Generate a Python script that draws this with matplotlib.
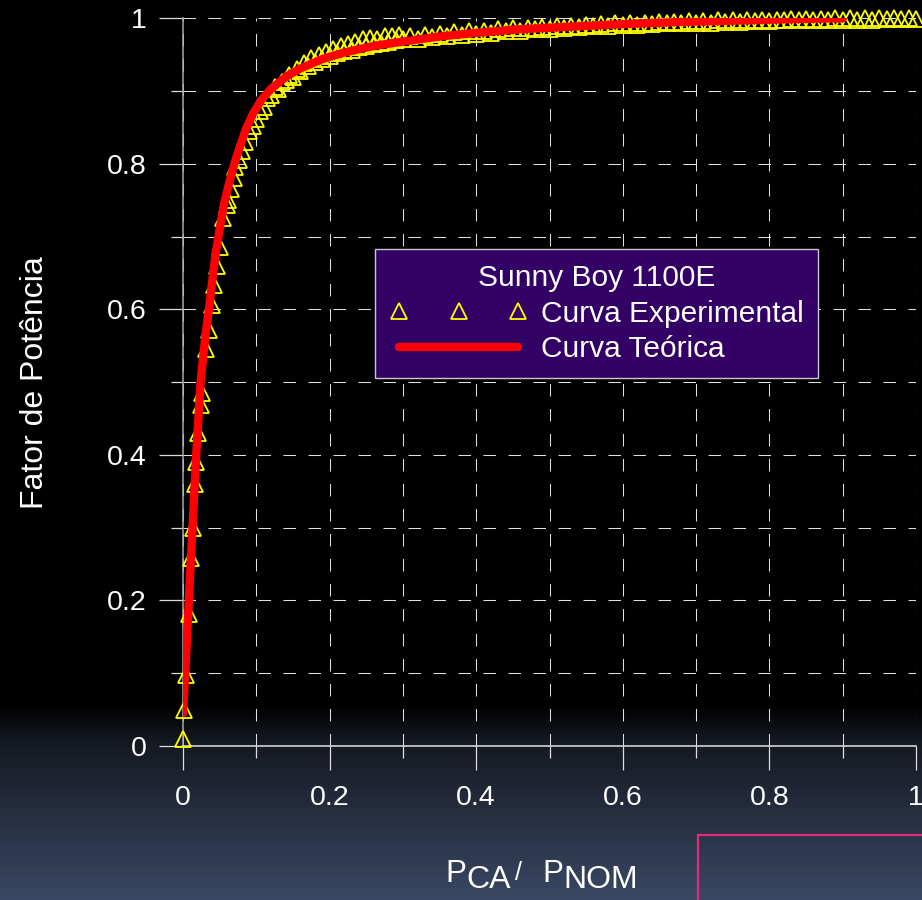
import numpy as np
import matplotlib
matplotlib.use('Agg')
import matplotlib.pyplot as plt
from matplotlib.patches import Rectangle

# curva experimental
exp_x = [0.000, 0.002, 0.004, 0.008, 0.011, 0.013, 0.016, 0.018, 0.020, 0.024,
         0.026, 0.032, 0.035, 0.039, 0.042, 0.046, 0.051, 0.055, 0.060, 0.062,
         0.066, 0.069, 0.071, 0.076,
         0.080, 0.085, 0.090, 0.095, 0.100, 0.105, 0.110, 0.115, 0.120, 0.125,
         0.130, 0.135, 0.140, 0.145, 0.150, 0.155, 0.160, 0.165, 0.170, 0.175,
         0.180, 0.185, 0.190, 0.195, 0.200, 0.205, 0.210, 0.215, 0.220, 0.225,
         0.230, 0.235, 0.240, 0.245, 0.250, 0.255, 0.260, 0.265, 0.270, 0.275,
         0.280, 0.285, 0.290, 0.295, 0.300,
         0.31, 0.32, 0.33, 0.34, 0.35, 0.36, 0.37, 0.38, 0.39, 0.40,
         0.41, 0.42, 0.43, 0.44, 0.45, 0.46, 0.47, 0.48, 0.49, 0.50,
         0.51, 0.52, 0.53, 0.54, 0.55, 0.56, 0.57, 0.58, 0.59, 0.60,
         0.61, 0.62, 0.63, 0.64, 0.65, 0.66, 0.67, 0.68, 0.69, 0.70,
         0.71, 0.72, 0.73, 0.74, 0.75, 0.76, 0.77, 0.78, 0.79, 0.80,
         0.81, 0.82, 0.83, 0.84, 0.85, 0.86, 0.87, 0.88, 0.89, 0.90,
         0.91, 0.92, 0.93, 0.94, 0.95, 0.96, 0.97, 0.98, 0.99, 1.00]
exp_y = [0.010, 0.049, 0.097, 0.182, 0.258, 0.300, 0.360, 0.390, 0.430, 0.468,
         0.485, 0.546, 0.571, 0.606, 0.633, 0.659, 0.686, 0.725, 0.743, 0.750,
         0.766, 0.780, 0.796, 0.805,
         0.818, 0.830, 0.845, 0.852, 0.862, 0.872, 0.878, 0.890, 0.894, 0.905,
         0.903, 0.912, 0.915, 0.922, 0.920, 0.930, 0.928, 0.938, 0.935, 0.945,
         0.940, 0.950, 0.944, 0.954, 0.948, 0.958, 0.952, 0.962, 0.955, 0.965,
         0.957, 0.968, 0.960, 0.971, 0.962, 0.973, 0.964, 0.972, 0.966, 0.975,
         0.968, 0.976, 0.970, 0.977, 0.971,
         0.975, 0.972, 0.977, 0.974, 0.979, 0.976, 0.981, 0.977, 0.982, 0.979,
         0.983, 0.980, 0.985, 0.982, 0.986, 0.983, 0.987, 0.985, 0.988, 0.985,
         0.989, 0.987, 0.990, 0.988, 0.991, 0.989, 0.992, 0.990, 0.993, 0.991,
         0.994, 0.991, 0.994, 0.992, 0.995, 0.993, 0.995, 0.993, 0.996, 0.994,
         0.996, 0.994, 0.997, 0.995, 0.997, 0.995, 0.998, 0.996, 0.998, 0.996,
         0.998, 0.997, 0.999, 0.997, 0.999, 0.997, 0.999, 0.998, 1.000, 0.998,
         1.000, 0.998, 1.000, 0.998, 1.000, 0.999, 1.000, 0.999, 1.000, 0.999]

# curva teorica
teo_x = [0.0, 0.003, 0.006, 0.009, 0.012, 0.015, 0.018, 0.021, 0.024, 0.028,
         0.032, 0.036, 0.040, 0.045, 0.050, 0.056, 0.062, 0.070, 0.078, 0.086,
         0.095, 0.107, 0.12, 0.141, 0.16, 0.19, 0.22, 0.26, 0.30, 0.35,
         0.40, 0.46, 0.52, 0.60, 0.68, 0.76, 0.84, 0.90]
teo_y = [0.045, 0.10, 0.16, 0.22, 0.28, 0.34, 0.40, 0.45, 0.50, 0.54,
         0.575, 0.605, 0.64, 0.68, 0.71, 0.745, 0.77, 0.80, 0.825, 0.848,
         0.868, 0.888, 0.903, 0.920, 0.931, 0.944, 0.953, 0.962, 0.968, 0.975,
         0.980, 0.985, 0.988, 0.992, 0.995, 0.997, 0.999, 1.0]

ticks = [0, 0.2, 0.4, 0.6, 0.8, 1.0]
tick_labels = ['0', '0.2', '0.4', '0.6', '0.8', '1']

plt.rcParams['font.family'] = ['Liberation Sans', 'DejaVu Sans']

W, H = 922, 900
fig = plt.figure(figsize=(W / 100, H / 100), dpi=100, facecolor='black')

# fundo com degrade na parte de baixo
bg = fig.add_axes([0, 0, 1, 1], zorder=-10)
rows = np.arange(H)
r = np.interp(rows, [0, 705, 740, 800, 900], [0, 0, 20, 35, 58])
g = np.interp(rows, [0, 705, 740, 800, 900], [0, 0, 24, 42, 72])
b = np.interp(rows, [0, 705, 740, 800, 900], [0, 0, 32, 58, 100])
img = np.stack([r, g, b], axis=-1)[:, None, :] / 255.0
bg.imshow(img, aspect='auto', extent=[0, 1, 0, 1], origin='upper')
bg.axis('off')

ax = fig.add_axes([183 / W, 154 / H, 733 / W, 727.7 / H])
ax.set_facecolor('none')

ax.plot(exp_x, exp_y, linestyle='none', marker='^', ms=11.5, mfc='none',
        mec='#ffff00', mew=1.3, clip_on=False, zorder=3,
        label='Curva Experimental')
ax.plot(teo_x, teo_y, color='#ff0000', lw=6, solid_capstyle='round',
        solid_joinstyle='round', zorder=4, label='Curva Teórica')

ax.set_xlim(0, 1)
ax.set_ylim(0, 1)
ax.set_xticks(ticks)
ax.set_xticklabels(tick_labels)
ax.set_yticks(ticks)
ax.set_yticklabels(tick_labels)
ax.set_xticks([0.1, 0.3, 0.5, 0.7, 0.9], minor=True)
ax.set_yticks([0.1, 0.3, 0.5, 0.7, 0.9], minor=True)
ax.tick_params(which='major', length=17, width=0.9, color='#dddddd',
               direction='out', labelsize=20.5, labelcolor='white')
ax.tick_params(which='minor', length=8.6, width=0.9, color='#dddddd',
               direction='out')
ax.tick_params(axis='x', which='major', pad=11)
ax.tick_params(axis='y', which='major', pad=9)
ax.grid(True, which='both', color='#e0e0e0', lw=0.75, linestyle=(0, (12, 12)))
ax.set_axisbelow(True)

for s in ['top', 'right']:
    ax.spines[s].set_visible(False)
ax.spines['left'].set_color('#a8a8a8')
ax.spines['bottom'].set_color('#e0e0e0')
ax.spines['left'].set_linewidth(1.1)
ax.spines['bottom'].set_linewidth(1.1)

leg = ax.legend(loc='upper left', bbox_to_anchor=(375 / W, 1 - 249 / H),
                bbox_transform=fig.transFigure, title='Sunny Boy 1100E',
                numpoints=3, handlelength=4.6, handletextpad=0.45,
                borderpad=0.5, labelspacing=0.26, fontsize=21.5,
                title_fontsize=21.5, fancybox=False, facecolor='#330066',
                edgecolor='#c8c8c8', framealpha=1, borderaxespad=0)
for t in leg.get_texts():
    t.set_color('white')
leg.get_title().set_color('white')
leg.get_frame().set_linewidth(1)

fig.text(35 / W, 1 - 383 / H, 'Fator de Potência', rotation=90,
         ha='center', va='center', fontsize=23, color='white')

# rotulo do eixo x: P_CA / P_NOM
pieces = [(445, 'P', 22.5, 882), (466, 'CA', 23, 888), (515, '/', 18, 880),
          (542, 'P', 22.5, 882), (563, 'NOM', 23, 888)]
for px, txt, size, base in pieces:
    fig.text(px / W, 1 - base / H, txt, fontsize=size, color='white',
             va='baseline', ha='left')

fig.patches.append(Rectangle((698 / W, -0.1), 0.5, 0.1 + 65 / H,
                             transform=fig.transFigure, fill=False,
                             edgecolor='#e4287c', lw=1.6))

fig.savefig('out.png', dpi=100, facecolor='black')
